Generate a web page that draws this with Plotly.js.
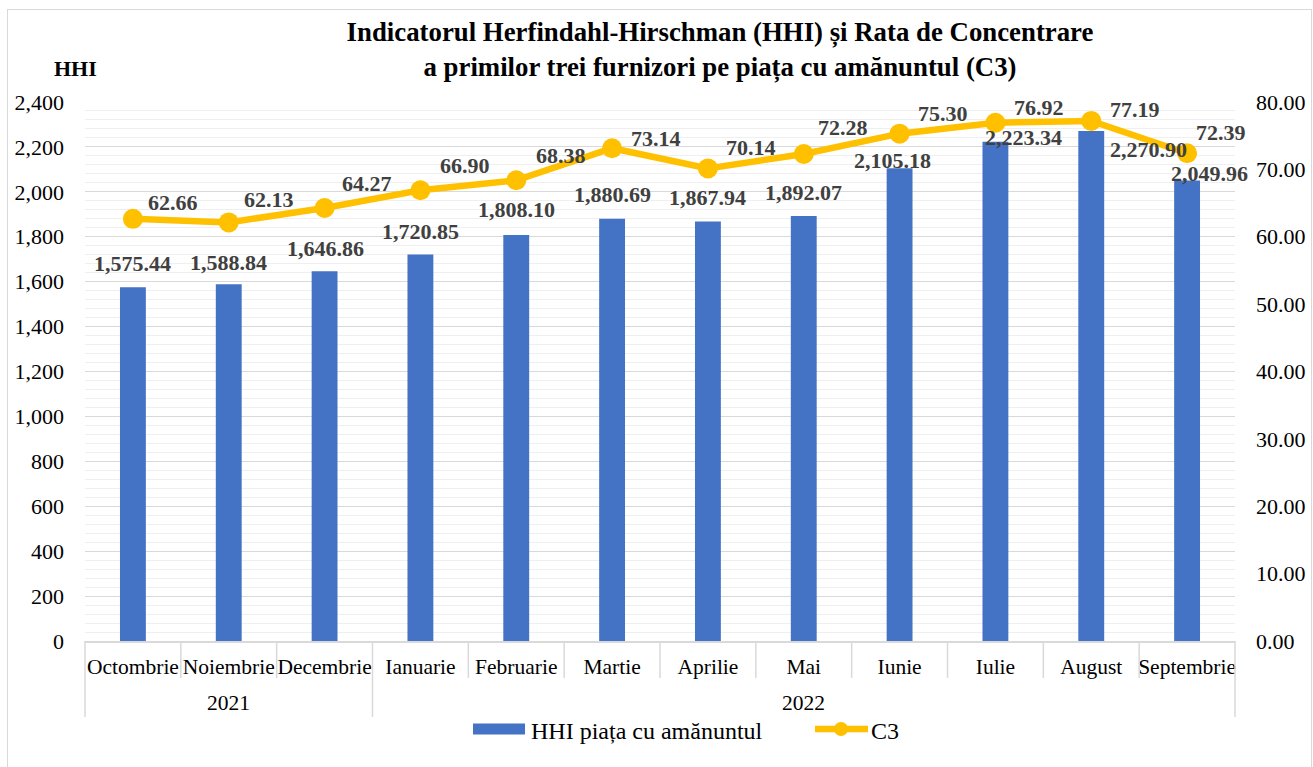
<!DOCTYPE html>
<html><head><meta charset="utf-8">
<script src="https://cdn.plot.ly/plotly-3.0.1.min.js"></script>
<style>
html,body{margin:0;padding:0;background:#fff}
#frame{position:absolute;left:7px;top:9px;width:1305px;height:770px;border:1.5px solid #d9d9d9;box-sizing:border-box;pointer-events:none}
</style></head><body>
<div id="chart" style="width:1313px;height:767px;position:absolute;left:0;top:0"></div>
<div id="frame"></div>
<script>
const years = ['2021','2021','2021','2022','2022','2022','2022','2022','2022','2022','2022','2022'];
const months = ['Octombrie','Noiembrie','Decembrie','Ianuarie','Februarie','Martie','Aprilie','Mai','Iunie','Iulie','August','Septembrie'];
const hhi = [1575.44,1588.84,1646.86,1720.85,1808.10,1880.69,1867.94,1892.07,2105.18,2223.34,2270.90,2049.96];
const c3 = [62.66,62.13,64.27,66.90,68.38,73.14,70.14,72.28,75.30,76.92,77.19,72.39];
const seriesNames = ['HHI piața cu amănuntul','C3'];

// label offsets (px): [dx, up]
const barLabelShift = [[0,24],[0,22],[1,23],[0,23],[0,25],[0,24],[0,24],[0,24],[-7,8],[28,4],[57,-19],[22,7]];
const lineLabelShift = [[40,16],[40,23],[42,24],[45,25],[45,25],[44,10],[43,21],[39,27],[43,20],[44,15],[44,11],[34,21]];

const FONT = 'Liberation Serif, Times New Roman, serif';
const LABEL_COLOR = '#404040';
const BAR_COLOR = '#4472C4';
const LINE_COLOR = '#FFC000';

// plot-area geometry (px) used to place non-data decorations
const PL = 85, PR = 1235, PT = 102, PB = 641;
const px2x = p => (p - PL) / (PR - PL);
const py2y = p => (PB - p) / (PB - PT);

const traces = [
  {type:'bar', name:seriesNames[0], x:months, y:hhi, width:0.27,
   marker:{color:BAR_COLOR}, hoverinfo:'skip', showlegend:false},
  {type:'scatter', mode:'lines+markers', name:seriesNames[1], x:months, y:c3, yaxis:'y2',
   line:{color:LINE_COLOR, width:6.5}, marker:{color:LINE_COLOR, size:20}, hoverinfo:'skip', showlegend:false}
];

const annotations = [];
hhi.forEach((v,i)=>{
  annotations.push({xref:'x2', yref:'y', x:i, y:v, showarrow:false,
    text: v.toLocaleString('en-US',{minimumFractionDigits:2, maximumFractionDigits:2}),
    xshift:barLabelShift[i][0], yshift:barLabelShift[i][1], xanchor:'center', yanchor:'middle',
    font:{family:FONT, size:22, color:LABEL_COLOR, weight:'bold'}});
});
c3.forEach((v,i)=>{
  annotations.push({xref:'x2', yref:'y2', x:i, y:v, showarrow:false,
    text: v.toFixed(2),
    xshift:lineLabelShift[i][0], yshift:lineLabelShift[i][1], xanchor:'center', yanchor:'middle',
    font:{family:FONT, size:22, color:LABEL_COLOR, weight:'bold'}});
});
annotations.push({xref:'paper', yref:'paper', x:px2x(99), y:py2y(68), showarrow:false, text:'HHI',
  xanchor:'right', yanchor:'middle', font:{family:FONT, size:22, color:'#000', weight:'bold'}});

// year group labels (second category level)
const groups = [];
years.forEach((yr,i)=>{
  if (!groups.length || groups[groups.length-1].name !== yr) groups.push({name:yr, start:i, end:i});
  else groups[groups.length-1].end = i;
});
groups.forEach(g=>{
  annotations.push({xref:'x2', yref:'paper', x:(g.start+g.end)/2, y:py2y(703), showarrow:false,
    text:g.name, xanchor:'center', yanchor:'middle', font:{family:FONT, size:21.5, color:'#000'}});
});

// category separators below the axis
const shapes = [];
const nCat = months.length;
for (let k=0;k<=nCat;k++){
  const isGroup = (k===0 || k===nCat || years[k]!==years[k-1]);
  shapes.push({type:'line', xref:'paper', yref:'paper', x0:k/nCat, x1:k/nCat, y0:0,
    y1: isGroup ? py2y(717) : py2y(678), line:{color:'#d9d9d9', width:1.5}});
}

// legend (drawn manually to match wide symbols)
shapes.push({type:'rect', xref:'paper', yref:'paper', x0:px2x(473), x1:px2x(525), y0:py2y(734.5), y1:py2y(723.5),
  fillcolor:BAR_COLOR, line:{width:0}});
annotations.push({xref:'paper', yref:'paper', x:px2x(529), y:py2y(731), showarrow:false, text:seriesNames[0],
  xanchor:'left', yanchor:'middle', font:{family:FONT, size:24, color:'#000'}});
shapes.push({type:'line', xref:'paper', yref:'paper', x0:px2x(815), x1:px2x(868), y0:py2y(729), y1:py2y(729),
  line:{color:LINE_COLOR, width:6.5}});
shapes.push({type:'circle', xref:'paper', yref:'paper', x0:px2x(834), x1:px2x(848), y0:py2y(736), y1:py2y(722),
  fillcolor:LINE_COLOR, line:{width:0}});
annotations.push({xref:'paper', yref:'paper', x:px2x(869), y:py2y(731), showarrow:false, text:seriesNames[1],
  xanchor:'left', yanchor:'middle', font:{family:FONT, size:24, color:'#000'}});

const layout = {
  width:1313, height:767,
  margin:{l:PL, r:1313-PR, t:PT, b:767-PB},
  paper_bgcolor:'#fff', plot_bgcolor:'#fff',
  font:{family:FONT, size:20, color:'#000'},
  title:{text:'Indicatorul Herfindahl-Hirschman (HHI) și Rata de Concentrare<br>a primilor trei furnizori pe piața cu amănuntul (C3)',
    font:{family:FONT, size:26.8, color:'#000', weight:'bold'},
    x:720/1313, xref:'container', xanchor:'center', y:1-41/767, yref:'container', yanchor:'middle'},
  showlegend:false,
  bargap:0.73,
  xaxis:{type:'category', range:[-0.5,11.5], showline:true, linecolor:'#d9d9d9', linewidth:1.5,
    ticks:'', showgrid:false, ticklabelstandoff:6, tickfont:{family:FONT, size:21.5, color:'#000'}, fixedrange:true},
  xaxis2:{type:'linear', range:[-0.5,11.5], overlaying:'x', visible:false, fixedrange:true},
  yaxis:{range:[0,2400], dtick:200, tickformat:',d', showgrid:true, gridcolor:'#d9d9d9', gridwidth:1,
    minor:{dtick:40, showgrid:true, gridcolor:'#efefef', gridwidth:1},
    zeroline:false, showline:false, ticks:'', ticklabelstandoff:20,
    tickfont:{family:FONT, size:22, color:'#000'}, fixedrange:true},
  yaxis2:{range:[0,80], dtick:10, tickformat:'.2f', overlaying:'y', side:'right', showgrid:false,
    zeroline:false, showline:false, ticks:'', ticklabelstandoff:20,
    tickfont:{family:FONT, size:22, color:'#000'}, fixedrange:true},
  annotations:annotations,
  shapes:shapes
};

Plotly.newPlot('chart', traces, layout, {displayModeBar:false, staticPlot:true});
</script>
</body></html>
